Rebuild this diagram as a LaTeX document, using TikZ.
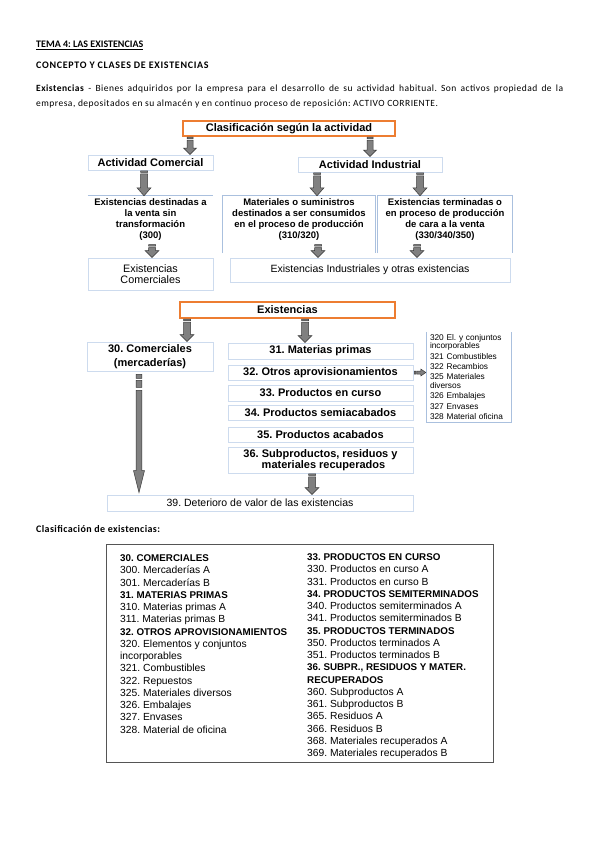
\documentclass[tikz,border=0pt]{standalone}
\usepackage{fontspec}
\setmainfont{Liberation Sans}
\newfontfamily\calfont{Carlito}
\newfontfamily\calfontsp[LetterSpace=5]{Carlito}
\newfontfamily\calfonthd[LetterSpace=7]{Carlito}
\newfontfamily\calfontcl[LetterSpace=4]{Carlito}
\usetikzlibrary{calc}
\definecolor{orng}{RGB}{237,125,49}
\definecolor{lblue}{RGB}{170,192,222}
\definecolor{lblue2}{RGB}{205,219,238}
\definecolor{agray}{RGB}{128,128,128}
\definecolor{adark}{RGB}{55,55,55}
\definecolor{tgray}{RGB}{85,85,85}
\newcommand\fs[2]{\fontsize{#1}{#2}\selectfont}
\newcommand\hd[1]{{\bfseries\fontsize{9.8}{12.25}\selectfont #1}}
\tikzset{
  box/.style={inner sep=0pt, align=center, font=\bfseries\fs{11}{13}},
  obox/.style={box, draw=orng, line width=1.2pt},
  bbox/.style={box, draw=lblue2, line width=0.9pt},
  tbox/.style={box, font=\bfseries\fs{9.5}{11}, minimum height=48},
  bline/.style={draw=lblue, line width=0.9pt},
  mbox/.style={box, draw=lblue2, line width=0.9pt, minimum width=185},
  arst/.style={fill=agray, draw=adark, line width=0.5pt},
  hdr/.style={anchor=base west, inner sep=0pt},
  col/.style={anchor=north west, inner sep=0pt, align=left, font=\fs{10.3}{12.25}}
}
\newcommand\barrow[5]{%
  \draw[arst] let \p1=(#1), \p2=(#2) in
    (\x1-#3pt,\y1-0.5pt) rectangle (\x1+#3pt,\y1-2pt)
    (\x1-#3pt,\y1-3.5pt) -- (\x1+#3pt,\y1-3.5pt) -- (\x1+#3pt,\y2+#5pt)
    -- (\x1+#4pt,\y2+#5pt) -- (\x1,\y2) -- (\x1-#4pt,\y2+#5pt)
    -- (\x1-#3pt,\y2+#5pt) -- cycle;}
\frenchspacing
\begin{document}
\begin{tikzpicture}[x=1pt,y=-1pt]
\useasboundingbox[fill=white] (0,0) rectangle (599,848);

% ---------- header texts ----------
\node[hdr, font=\calfont\bfseries\fs{10}{12}] (t1) at (36,48) {TEMA 4: LAS EXISTENCIAS};
\draw[line width=0.6pt] ($(t1.base west)+(0,1.4)$) -- ($(t1.base east)+(0,1.4)$);
\node[hdr, font=\calfonthd\bfseries\fs{10}{12}] (t2) at (36,69) {CONCEPTO Y CLASES DE EXISTENCIAS};
\node[hdr, font=\calfontsp\fs{9.5}{12}] (p1) at (36,92)
  {\makebox[527pt][s]{\textbf{Existencias} - Bienes adquiridos por la empresa para el desarrollo de su actividad habitual. Son activos propiedad de la}};
\node[hdr, font=\calfontsp\fs{9.5}{12}] (p2) at (36,106.5)
  {empresa, depositados en su almacén y en continuo proceso de reposición: ACTIVO CORRIENTE.};

% ---------- upper diagram ----------
\node[obox, minimum width=212, minimum height=15] (clas) at (289,128.5) {Clasificación según la actividad};
\node[bbox, minimum width=125, minimum height=15] (com) at (150.5,162.5) {Actividad Comercial};
\node[bbox, minimum width=144, minimum height=15] (ind) at (370,164.5) {Actividad Industrial};

\node[tbox, minimum width=125] (dest) at (150.5,220) {Existencias destinadas a\\la venta sin\\transformación\\(300)};
\node[tbox, minimum width=152] (mat) at (299,220) {Materiales o suministros\\destinados a ser consumidos\\en el proceso de producción\\(310/320)};
\node[tbox, minimum width=134] (ter) at (445,220) {Existencias terminadas o\\en proceso de producción\\de cara a la venta\\(330/340/350)};
\draw[bline] (dest.north west) -- (dest.north east);
\draw[bline] ([yshift=-9pt]mat.south west) -- (mat.north west) -- (mat.north east) -- ([yshift=-9pt]mat.south east);
\draw[bline] ([yshift=-9pt]ter.south west) -- (ter.north west) -- (ter.north east) -- ([yshift=-9pt]ter.south east);

\node[bbox, font=\fs{10.8}{11.5}, minimum width=125, minimum height=32] (ecom) at (150.5,274) {Existencias\\Comerciales};
\node[bbox, font=\fs{10.5}{12}, minimum width=280, minimum height=24] (eind) at (370,270) {Existencias Industriales y otras existencias};

\coordinate (ax1) at (190,0);
\coordinate (ax2) at (370,0);
\coordinate (ax3) at (144,0);
\coordinate (ax4) at (317,0);
\coordinate (ax5) at (420,0);
\coordinate (ax6) at (152,0);
\coordinate (ax7) at (318,0);
\coordinate (ax8) at (417,0);
\barrow{clas.south -| ax1}{com.north -| ax1}{3}{6.5}{6.5}
\barrow{clas.south -| ax2}{ind.north -| ax2}{3}{6.5}{6.5}
\barrow{com.south -| ax3}{dest.north -| ax3}{3.5}{7}{8}
\barrow{ind.south -| ax4}{mat.north -| ax4}{3.5}{7}{8}
\barrow{ind.south -| ax5}{ter.north -| ax5}{3.5}{7}{8}
\barrow{dest.south -| ax6}{ecom.north -| ax6}{3.5}{7}{7}
\barrow{mat.south -| ax7}{eind.north -| ax7}{3.5}{7}{7}
\barrow{ter.south -| ax8}{eind.north -| ax8}{3.5}{7}{7}

% ---------- lower diagram ----------
\node[obox, minimum width=215, minimum height=16] (exi) at (287.5,310) {Existencias};
\node[bbox, font=\bfseries\fs{11}{14}, minimum width=126, minimum height=29] (c30) at (150,356.5) {30. Comerciales\\(mercaderías)};
\node[mbox, minimum height=16] (m31) at (320.5,351) {31. Materias primas};
\node[mbox, minimum height=15] (m32) at (320.5,372.5) {32. Otros aprovisionamientos};
\node[mbox, minimum height=16] (m33) at (320.5,393) {33. Productos en curso};
\node[mbox, minimum height=15] (m34) at (320.5,412.5) {34. Productos semiacabados};
\node[mbox, minimum height=15] (m35) at (320.5,434.5) {35. Productos acabados};
\node[mbox, font=\bfseries\fs{11}{10.5}, minimum height=26] (m36) at (320.5,460) {36. Subproductos, residuos y\\\hspace*{6pt}materiales recuperados};
\node[bbox, font=\fs{10.5}{12}, minimum width=306, minimum height=16] (d39) at (260,503) {39. Deterioro de valor de las existencias};

\node[inner sep=0pt, minimum width=84, minimum height=90, text width=78, align=left, font=\fs{8.3}{8.2}] (list) at (469,377)
  {320 El. y conjuntos\\incorporables\\[2pt]321 Combustibles\\[2.5pt]322 Recambios\\[2pt]325 Materiales\\diversos\\[2pt]326 Embalajes\\[2.5pt]327 Envases\\[2pt]328 Material oficina};
\draw[bline] (list.north west) -- (list.south west) -- (list.south east) -- (list.north east);

\coordinate (bx1) at (187,0);
\coordinate (bx2) at (305,0);
\coordinate (bx3) at (312,0);
\coordinate (bxL) at (139,0);
\barrow{exi.south -| bx1}{c30.north -| bx1}{3.5}{7}{7}
\barrow{exi.south -| bx2}{m31.north -| bx2}{3.5}{7}{7}
\barrow{m36.south -| bx3}{d39.north -| bx3}{3.5}{7}{7}
\draw[arst] let \p1=(c30.south -| bxL), \p2=(d39.north -| bxL) in
  (\x1-2.8pt,\y1-3pt) rectangle (\x1+2.8pt,\y1-7pt)
  (\x1-2.8pt,\y1-9pt) rectangle (\x1+2.8pt,\y1-16pt)
  (\x1-2.8pt,\y1-19pt) -- (\x1+2.8pt,\y1-19pt) -- (\x1+2.8pt,\y2+24pt)
  -- (\x1+5.5pt,\y2+24pt) -- (\x1,\y2+2pt) -- (\x1-5.5pt,\y2+24pt)
  -- (\x1-2.8pt,\y2+24pt) -- cycle;
\draw[arst] let \p1=(m32.east), \p2=(list.west |- m32.east) in
  (\x1+1pt,\y1-1.5pt) rectangle (\x1+2.5pt,\y1+1.5pt)
  (\x1+3.5pt,\y1-1.5pt) -- (\x2-6pt,\y1-1.5pt) -- (\x2-6pt,\y1-3.5pt)
  -- (\x2-1pt,\y1) -- (\x2-6pt,\y1+3.5pt) -- (\x2-6pt,\y1+1.5pt)
  -- (\x1+3.5pt,\y1+1.5pt) -- cycle;

% ---------- classification table ----------
\node[hdr, font=\calfontcl\bfseries\fs{10}{12}] (t3) at (36,532) {Clasificación de existencias:};
\node[draw=tgray, line width=1pt, inner sep=0pt, minimum width=387, minimum height=218] (tab) at (299.5,653) {};
\node[col] (colL) at (120,554.5) {\hd{30. COMERCIALES}\\300. Mercaderías A\\301. Mercaderías B\\\hd{31. MATERIAS PRIMAS}\\310. Materias primas A\\311. Materias primas B\\\hd{32. OTROS APROVISIONAMIENTOS}\\320. Elementos y conjuntos\\incorporables\\321. Combustibles\\322. Repuestos\\325. Materiales diversos\\326. Embalajes\\327. Envases\\328. Material de oficina};
\node[col] (colR) at (307,553.5) {\hd{33. PRODUCTOS EN CURSO}\\330. Productos en curso A\\331. Productos en curso B\\\hd{34. PRODUCTOS SEMITERMINADOS}\\340. Productos semiterminados A\\341. Productos semiterminados B\\\hd{35. PRODUCTOS TERMINADOS}\\350. Productos terminados A\\351. Productos terminados B\\\hd{36. SUBPR., RESIDUOS Y MATER.}\\\hd{RECUPERADOS}\\360. Subproductos A\\361. Subproductos B\\365. Residuos A\\366. Residuos B\\368. Materiales recuperados A\\369. Materiales recuperados B};
\end{tikzpicture}
\end{document}
